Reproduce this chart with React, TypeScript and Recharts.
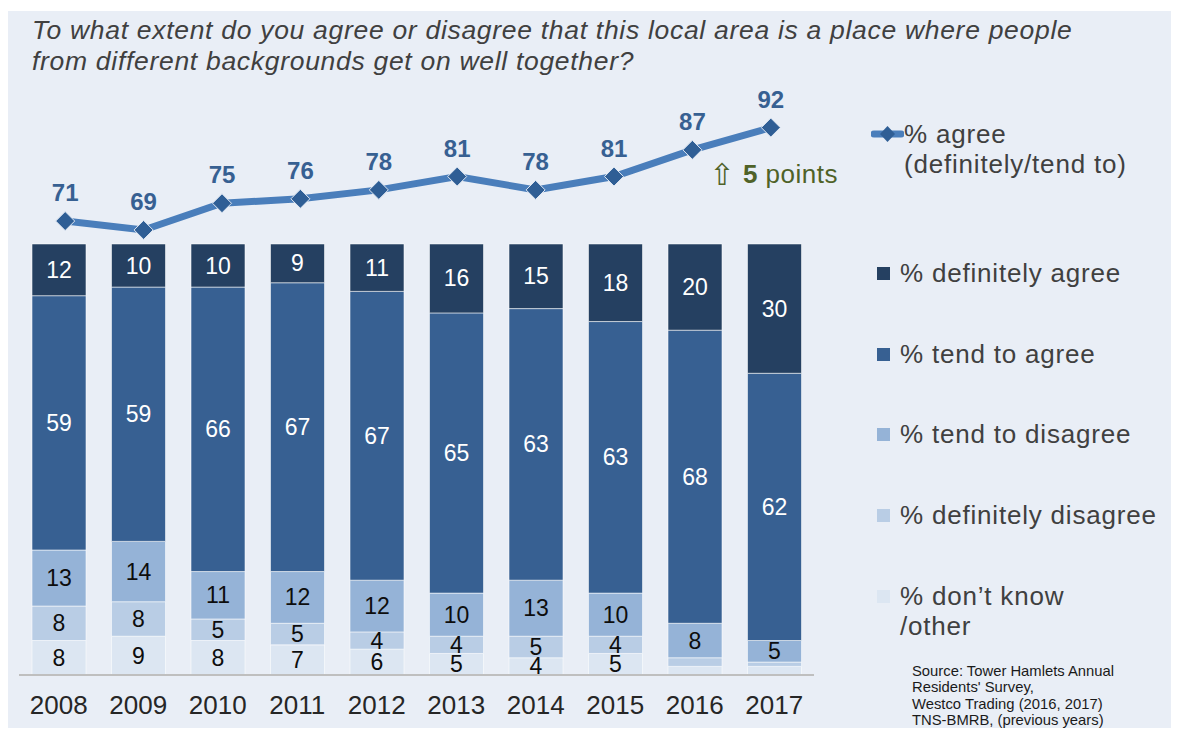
import {
  ComposedChart,
  Bar,
  Line,
  XAxis,
  YAxis,
  LabelList,
} from "recharts";

// survey years and the five answer shares (%), plus the combined "agree" line
const years = ["2008", "2009", "2010", "2011", "2012", "2013", "2014", "2015", "2016", "2017"];
const agreeTotal = [71, 69, 75, 76, 78, 81, 78, 81, 87, 92];
const definitelyAgree = [12, 10, 10, 9, 11, 16, 15, 18, 20, 30];
const tendToAgree = [59, 59, 66, 67, 67, 65, 63, 63, 68, 62];
const tendToDisagree = [13, 14, 11, 12, 12, 10, 13, 10, 8, 5];
const definitelyDisagree = [8, 8, 5, 5, 4, 4, 5, 4, 2, 1];
const dontKnow = [8, 9, 8, 7, 6, 5, 4, 5, 2, 2];

const legendItems = [
  { key: "definitelyAgree", label: "% definitely agree", color: "#254061" },
  { key: "tendToAgree", label: "% tend to agree", color: "#376092" },
  { key: "tendToDisagree", label: "% tend to disagree", color: "#95B3D7" },
  { key: "definitelyDisagree", label: "% definitely disagree", color: "#B9CDE5" },
  { key: "dontKnow", label: "% don\u2019t know\n/other", color: "#DCE6F2" },
];

const COLORS: Record<string, string> = {
  definitelyAgree: "#254061",
  tendToAgree: "#376092",
  tendToDisagree: "#95B3D7",
  definitelyDisagree: "#B9CDE5",
  dontKnow: "#DCE6F2",
};

const data = years.map((year, i) => ({
  year,
  agree: agreeTotal[i],
  definitelyAgree: definitelyAgree[i],
  tendToAgree: tendToAgree[i],
  tendToDisagree: tendToDisagree[i],
  definitelyDisagree: definitelyDisagree[i],
  dontKnow: dontKnow[i],
}));

const FONT = "'Liberation Sans', Arial, sans-serif";

// label in the middle of a stacked segment, skipped when the segment is tiny
const segmentLabel = (color: string) => (props: any) => {
  const x = Number(props.x);
  const y = Number(props.y);
  const w = Number(props.width);
  const h = Number(props.height);
  const v = Number(props.value);
  if (!v || v < 3) return null;
  return (
    <text
      x={x + w / 2}
      y={y + h / 2}
      fill={color}
      fontSize={23}
      fontFamily={FONT}
      textAnchor="middle"
      dominantBaseline="central"
    >
      {v}
    </text>
  );
};

const Diamond = (props: any) => {
  const { cx, cy } = props;
  if (cx == null || cy == null) return null;
  const r = 9.5;
  return (
    <path
      d={`M${cx},${cy - r} L${cx + r},${cy} L${cx},${cy + r} L${cx - r},${cy} Z`}
      fill="#2F5E95"
      stroke="#dfe7f2"
      strokeWidth={1}
    />
  );
};

export default function App() {
  const stackOrder = ["dontKnow", "definitelyDisagree", "tendToDisagree", "tendToAgree", "definitelyAgree"];

  return (
    <div
      style={{
        position: "relative",
        top: 3,
        width: 1171,
        height: 720,
        background: "#E9EEF6",
        fontFamily: FONT,
      }}
    >
      <style>{"body{overflow:hidden}"}</style>

      {/* question title */}
      <div
        style={{
          position: "absolute",
          left: 24,
          top: 4,
          fontSize: 26.5,
          letterSpacing: 0.7,
          lineHeight: "31px",
          fontStyle: "italic",
          color: "#404040",
          whiteSpace: "nowrap",
        }}
      >
        To what extent do you agree or disagree that this local area is a place where people
        <br />
        from different backgrounds get on well together?
      </div>

      <ComposedChart
        width={1171}
        height={720}
        data={data}
        margin={{ top: 89, right: 365, bottom: 6, left: 11 }}
      >
        <XAxis
          dataKey="year"
          height={50}
          tickLine={false}
          axisLine={{ stroke: "#BFBFBF", strokeWidth: 2 }}
          tick={{ fontSize: 26, fill: "#262626", fontFamily: FONT }}
          tickMargin={15}
        />
        <XAxis xAxisId="line" dataKey="year" hide padding={{ left: 7, right: 4 }} />
        <YAxis yAxisId="bars" hide domain={[0, 133.4]} />
        <YAxis yAxisId="line" hide domain={[-31, 98.2]} />

        {stackOrder.map((key) => (
          <Bar
            key={key}
            dataKey={key}
            stackId="a"
            yAxisId="bars"
            barSize={54}
            fill={COLORS[key]}
            stroke="rgba(255,255,255,0.55)"
            strokeWidth={1}
            isAnimationActive={false}
          >
            <LabelList
              dataKey={key}
              content={segmentLabel(
                key === "tendToAgree" || key === "definitelyAgree" ? "#FFFFFF" : "#0D0D0D"
              )}
            />
          </Bar>
        ))}

        <Line
          xAxisId="line"
          yAxisId="line"
          dataKey="agree"
          stroke="#4A7EBB"
          strokeWidth={7}
          dot={<Diamond />}
          activeDot={false}
          isAnimationActive={false}
        >
          <LabelList
            dataKey="agree"
            content={({ x, y, value }: any) => (
              <text
                x={Number(x)}
                y={Number(y) - 20}
                fill="#376092"
                fontSize={24}
                fontWeight="bold"
                fontFamily={FONT}
                textAnchor="middle"
              >
                {value}
              </text>
            )}
          />
        </Line>
      </ComposedChart>

      {/* change annotation */}
      <div
        style={{
          position: "absolute",
          right: 1171 - 830,
          top: 148,
          fontSize: 26,
          letterSpacing: 0.5,
          lineHeight: "30px",
          color: "#4F6228",
          whiteSpace: "nowrap",
        }}
      >
        <span style={{ fontSize: 30, fontFamily: "'DejaVu Sans', sans-serif", verticalAlign: "-2px" }}>
          {"\u21E7"}
        </span>{" "}
        <b>5</b> points
      </div>

      {/* legend */}
      <div
        style={{
          position: "absolute",
          left: 863,
          top: 108,
          color: "#404040",
          fontSize: 26,
          letterSpacing: 0.8,
        }}
      >
        <div style={{ display: "flex", alignItems: "flex-start", lineHeight: "30px", whiteSpace: "nowrap" }}>
          <svg width={33} height={30} style={{ flex: "none" }}>
            <line x1={3} y1={15} x2={30} y2={15} stroke="#4A7EBB" strokeWidth={7} strokeLinecap="round" />
            <path d="M16.5,7 L24,15 L16.5,23 L9,15 Z" fill="#2F5E95" />
          </svg>
          <div>
            % agree
            <br />
            (definitely/tend to)
          </div>
        </div>
        {legendItems.map((item, i) => (
          <div
            key={item.key}
            style={{
              position: "absolute",
              left: 6,
              top: 139 + i * 80.7,
              display: "flex",
              alignItems: "flex-start",
              lineHeight: "30px",
              whiteSpace: "pre",
            }}
          >
            <span
              style={{
                width: 13,
                height: 13,
                marginTop: 9,
                marginRight: 10,
                background: item.color,
                flex: "none",
              }}
            />
            <span>{item.label}</span>
          </div>
        ))}
      </div>

      {/* source note */}
      <div
        style={{
          position: "absolute",
          left: 904,
          top: 652,
          fontSize: 14.8,
          lineHeight: "16.3px",
          color: "#1A1A1A",
          whiteSpace: "nowrap",
        }}
      >
        Source: Tower Hamlets Annual
        <br />
        Residents' Survey,
        <br />
        Westco Trading (2016, 2017)
        <br />
        TNS-BMRB, (previous years)
      </div>
    </div>
  );
}
